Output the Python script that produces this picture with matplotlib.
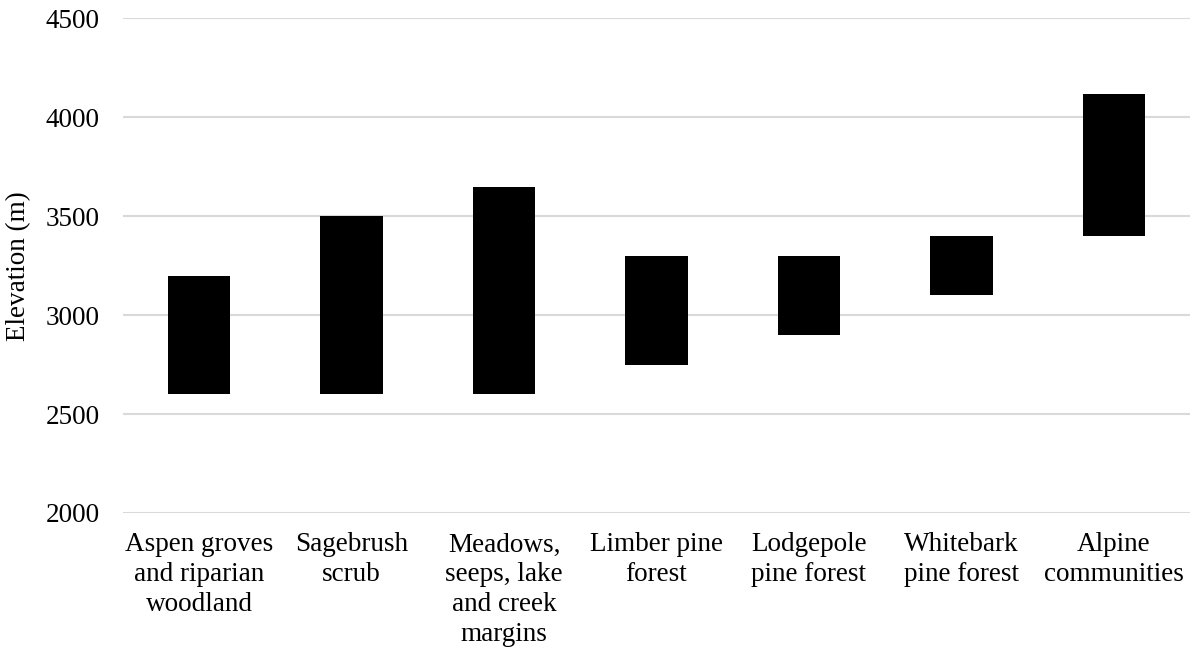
import numpy as np
import matplotlib.pyplot as plt

# Elevation ranges of vegetation communities (m)
communities = ['Aspen groves\nand riparian\nwoodland', 'Sagebrush\nscrub',
               'Meadows,\nseeps, lake\nand creek\nmargins', 'Limber pine\nforest',
               'Lodgepole\npine forest', 'Whitebark\npine forest', 'Alpine\ncommunities']
low_elev = np.array([2600, 2600, 2600, 2750, 2900, 3100, 3400])
high_elev = np.array([3200, 3500, 3650, 3300, 3300, 3400, 4120])
y_ticks = [2000, 2500, 3000, 3500, 4000, 4500]

plt.rcParams['font.family'] = ['Liberation Serif', 'DejaVu Serif']

fig = plt.figure(figsize=(11.93, 6.5), dpi=100)
ax = fig.add_axes([0.1031, 0.2108, 0.8944, 0.7608])

x = np.arange(len(communities))
ax.bar(x, high_elev - low_elev, bottom=low_elev, width=0.41, color='black',
       zorder=3)

ax.set_xlim(-0.5, len(communities) - 0.5)
ax.set_ylim(2000, 4500)
ax.set_yticks(y_ticks)
ax.set_xticks(x)
ax.set_xticklabels(communities, fontsize=19.5, linespacing=1.26)
ax.tick_params(axis='y', labelsize=19.5, length=0, pad=17)
ax.tick_params(axis='x', length=0, pad=14)
ax.set_ylabel('Elevation (m)', fontsize=19.5, labelpad=10)

ax.grid(axis='y', color='#d9d9d9', linewidth=1.5, zorder=0)
for s in ax.spines.values():
    s.set_visible(False)

fig.savefig('out.png', dpi=100)
